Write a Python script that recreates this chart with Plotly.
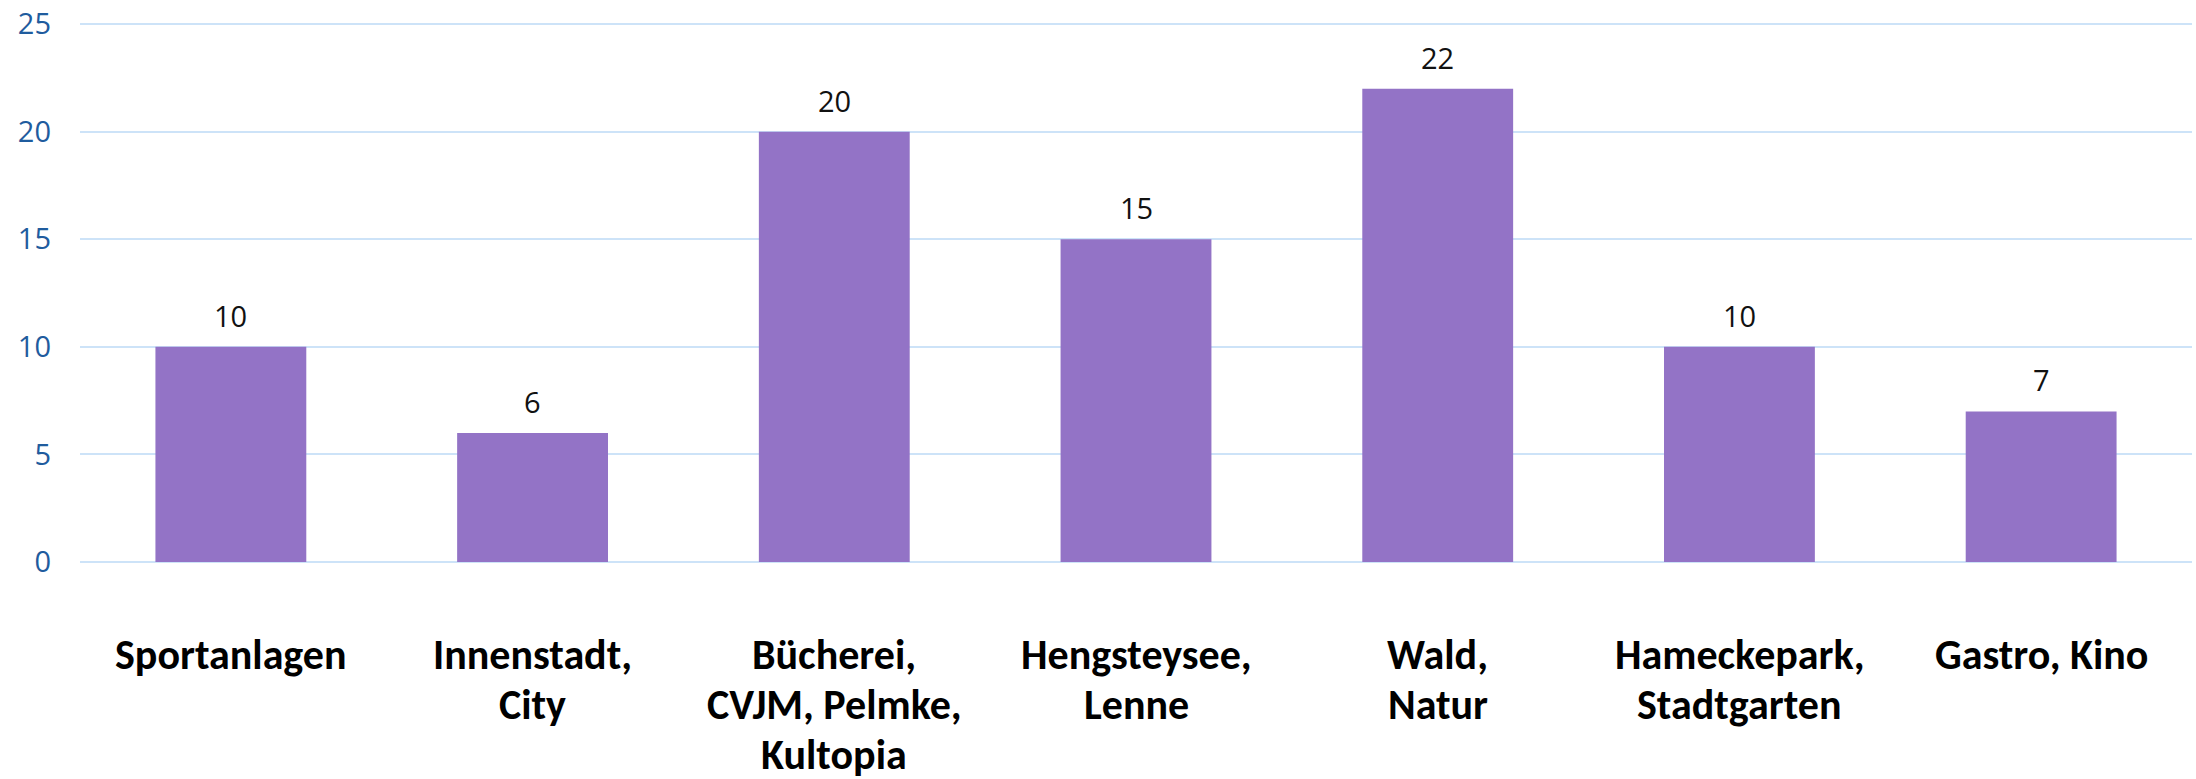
import plotly.graph_objects as go

categories = ["Sportanlagen", "Innenstadt,<br>City", "Bücherei,<br>CVJM, Pelmke,<br>Kultopia",
              "Hengsteysee,<br>Lenne", "Wald,<br>Natur", "Hameckepark,<br>Stadtgarten", "Gastro, Kino"]
values = [10, 6, 20, 15, 22, 10, 7]
y_ticks = [0, 5, 10, 15, 20, 25]

cat_ids = list(range(len(categories)))

fig = go.Figure()
fig.add_trace(go.Bar(
    x=cat_ids, y=values,
    marker=dict(color="#9373C6", line=dict(width=0)),
    width=0.5,
    hoverinfo="skip",
))

annotations = []
# data labels
for c, v in zip(cat_ids, values):
    annotations.append(dict(
        x=c, y=v, xref="x", yref="y", text=str(v), showarrow=False,
        yanchor="bottom", yshift=10,
        font=dict(family="Open Sans", size=29, color="#111111"),
    ))
# category labels (one annotation per line for wider line spacing)
label_font = dict(family="Carlito, 'Open Sans', sans-serif", size=42, color="#000000")
for c, lab in zip(cat_ids, categories):
    for i, line in enumerate(lab.split("<br>")):
        annotations.append(dict(
            x=c, y=0, xref="x", yref="y", text="<b>" + line + "</b>", showarrow=False,
            yanchor="top", yshift=-65 - 50 * i,
            font=label_font,
        ))

fig.update_layout(
    width=2196, height=779,
    margin=dict(l=80, r=4, t=22, b=217, autoexpand=False),
    paper_bgcolor="white", plot_bgcolor="white",
    showlegend=False,
    annotations=annotations,
    xaxis=dict(range=[-0.5, len(categories) - 0.5], showticklabels=False, showgrid=False,
               zeroline=False, showline=False, ticks="", automargin=False),
    yaxis=dict(range=[0, 25.1], tickvals=y_ticks, showgrid=True, gridcolor="#CDE3F8", gridwidth=2,
               zeroline=True, zerolinecolor="#CDE3F8", zerolinewidth=2, showline=False, ticks="",
               ticklabelstandoff=28, ticklabeloverflow="allow", automargin=False,
               tickfont=dict(family="Open Sans", size=29, color="#1F5C9E")),
)

fig.write_html("out.html", config={"displayModeBar": False},
               post_script="document.body.style.margin='0';document.body.style.overflow='hidden';")
